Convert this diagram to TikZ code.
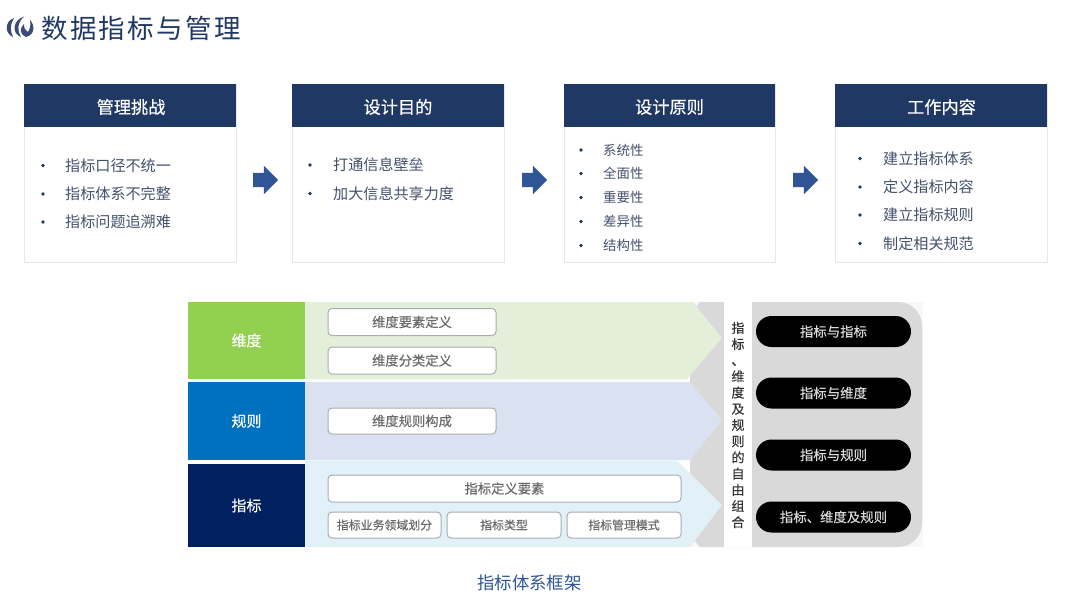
\documentclass[tikz,border=0pt]{standalone}
\usepackage{fontspec}
\setmainfont{Noto Sans CJK SC}
\newfontfamily\medfont[FakeBold=0.35]{Noto Sans CJK SC}
\usetikzlibrary{shapes.arrows}
\definecolor{navy}{HTML}{1F3864}
\definecolor{itemtext}{HTML}{44516B}
\definecolor{bluearrow}{HTML}{2F5597}
\definecolor{cardline}{HTML}{E4E7EB}
\definecolor{bandA}{HTML}{E3EFD9}
\definecolor{bandB}{HTML}{DAE2F1}
\definecolor{bandC}{HTML}{E2F1F8}
\definecolor{frameGray}{HTML}{D9D9D9}
\definecolor{boxline}{HTML}{A6ADB3}
\definecolor{boxtext}{HTML}{6A6A6A}
\definecolor{logoblue}{HTML}{3B4A75}
\tikzset{
  px/.style={x=1pt,y=-1pt},
  cardbody/.style={draw=cardline,line width=.8pt,fill=white},
  cardhead/.style={fill=navy,draw=none},
  headtext/.style={text=white,font=\medfont\fontsize{17.2}{19}\selectfont,inner sep=0pt},
  itemA/.style={text=itemtext,font=\fontsize{15.1}{17}\selectfont,anchor=west,inner sep=0pt},
  itemB/.style={text=itemtext,font=\fontsize{13.4}{15}\selectfont,anchor=west,inner sep=0pt},
  dotmark/.style={circle,fill=navy,minimum size=3.6pt,inner sep=0pt},
  blockarrow/.style={single arrow,fill=bluearrow,draw=none,minimum height=25pt,minimum width=28pt,
     single arrow head extend=7pt,single arrow head indent=0pt,inner sep=7pt,outer sep=0pt},
  sidebox/.style={text=white,font=\medfont\fontsize{15}{17}\selectfont,inner sep=0pt},
  rbox/.style={draw=boxline,line width=1pt,rounded corners=4pt,fill=white,text=boxtext,
     font=\medfont\fontsize{13.3}{15}\selectfont,inner sep=0pt},
  rboxs/.style={rbox,font=\medfont\fontsize{11.9}{13}\selectfont},
  pill/.style={fill=black,text=frameGray,font=\medfont\fontsize{13.4}{15}\selectfont,inner sep=0pt,
     rounded corners=15.5pt,minimum width=155pt,minimum height=31pt},
}
\begin{document}
\begin{tikzpicture}[px]
\useasboundingbox (0,0) rectangle (1080,608);
\fill[white] (0,0) rectangle (1080,608);
% logo
\fill[logoblue] (14,18) .. controls (5,21) and (4,33) .. (13,37) .. controls (10,31) and (10,24) .. (14,18) -- cycle;
\fill[logoblue] (24,16.5) .. controls (13,20) and (11,33) .. (21,37) .. controls (17,31) and (17,23) .. (24,16.5) -- cycle;
\fill[logoblue] (30,20) .. controls (35,25) and (35,35) .. (26,37) .. controls (20,35) and (19,28) .. (24,24)
   .. controls (24,28) and (25,31) .. (28,32) .. controls (30,29) and (31,25) .. (30,20) -- cycle;
\node[anchor=west,text=navy,inner sep=0pt,font=\fontsize{26.5}{28}\selectfont,text width=210pt] (title) at (41,28) {\addfontfeature{LetterSpace=9}数据指标与管理};
% cards
\foreach \xa/\xb/\hy in {24/236/126.5,292/504/126.5,564/775/126.5,835/1047/127}{
  \draw[cardbody] (\xa,84) rectangle (\xb,262.5);
  \fill[cardhead] (\xa,84) rectangle (\xb,\hy);
}
\node[headtext] (hA) at (131,107) {管理挑战};
\node[headtext] (hB) at (398,107) {设计目的};
\node[headtext] (hC) at (669.5,107) {设计原则};
\node[headtext] (hD) at (941.5,107) {工作内容};
% items
\foreach \y/\t [count=\i] in {165.5/指标口径不统一,194/指标体系不完整,222/指标问题追溯难}{
  \node[dotmark] (dA\i) at (43,\y) {}; \node[itemA] (tA\i) at (65,\y) {\t};}
\foreach \y/\t [count=\i] in {165/打通信息壁垒,193.5/加大信息共享力度}{
  \node[dotmark] (dB\i) at (310,\y) {}; \node[itemA] (tB\i) at (333,\y) {\t};}
\foreach \y/\t [count=\i] in {150/系统性,173.5/全面性,197.5/重要性,221.5/差异性,245.5/结构性}{
  \node[dotmark] (dC\i) at (581,\y) {}; \node[itemB] (tC\i) at (603,\y) {\t};}
\foreach \y/\t [count=\i] in {158.5/建立指标体系,187/定义指标内容,215/建立指标规则,243.5/制定相关规范}{
  \node[dotmark] (dD\i) at (860,\y) {}; \node[itemA] (tD\i) at (883,\y) {\t};}
% arrows
\node[blockarrow] (arA) at (262,180) {};
\node[blockarrow] (arB) at (531,180) {};
\node[blockarrow] (arC) at (802,180) {};
% framework: backing
\fill[black!3] (690,302) rectangle (923,547);
\fill[frameGray] (700,302) -- (897,302) .. controls (912,302) and (922,312) .. (922,327)
   -- (922,522) .. controls (922,537) and (912,547) .. (897,547) -- (700,547) -- (690,535) -- (690,314) -- cycle;
% bands
\fill[bandA] (305,302) -- (693,302) -- (722,338) -- (687,379) -- (305,379) -- cycle;
\fill[bandB] (305,382) -- (690,382) -- (722,420) -- (690,460) -- (305,460) -- cycle;
\fill[bandC] (305,464) -- (305,460.5) -- (677,460.5) -- (722,505) -- (690,547) -- (305,547) -- cycle;
% white column
\fill[white] (724,302) rectangle (752,547);
% side boxes
\node[sidebox,fill={rgb,255:red,146;green,208;blue,80},minimum width=117pt,minimum height=77pt] (dim) at (246.5,340.5) {维度};
\node[sidebox,fill={rgb,255:red,0;green,112;blue,192},minimum width=117pt,minimum height=78pt] (rule) at (246.5,421) {规则};
\node[sidebox,fill={rgb,255:red,0;green,32;blue,96},minimum width=117pt,minimum height=83pt] (idx) at (246.5,505.5) {指标};
% rounded boxes
\node[rbox,minimum width=168pt,minimum height=27pt] (b1) at (412,322) {维度要素定义};
\node[rbox,minimum width=168pt,minimum height=27pt] (b2) at (412,360.5) {维度分类定义};
\node[rbox,minimum width=168pt,minimum height=26pt] (b3) at (412,421) {维度规则构成};
\node[rbox,minimum width=353pt,minimum height=27pt] (b4) at (504.5,488.5) {指标定义要素};
\node[rboxs,minimum width=113pt,minimum height=26pt] (b5) at (384.5,525) {指标业务领域划分};
\node[rboxs,minimum width=114pt,minimum height=26pt] (b6) at (504,525) {指标类型};
\node[rboxs,minimum width=114pt,minimum height=26pt] (b7) at (624,525) {指标管理模式};
% vertical label
\node[text=black!80,font=\medfont\fontsize{13}{16.2}\selectfont,align=center,inner sep=0pt] (vlabel) at (738,425)
 {指\\标\\、\\维\\度\\及\\规\\则\\的\\自\\由\\组\\合};
% pills
\node[pill] (p1) at (833.5,331.5) {指标与指标};
\node[pill] (p2) at (833.5,393) {指标与维度};
\node[pill] (p3) at (833.5,455) {指标与规则};
\node[pill] (p4) at (833.5,517) {指标、维度及规则};
% caption
\node[text=bluearrow,font=\fontsize{17.4}{19}\selectfont,inner sep=0pt] (cap) at (529.5,583) {指标体系框架};
\end{tikzpicture}
\end{document}
